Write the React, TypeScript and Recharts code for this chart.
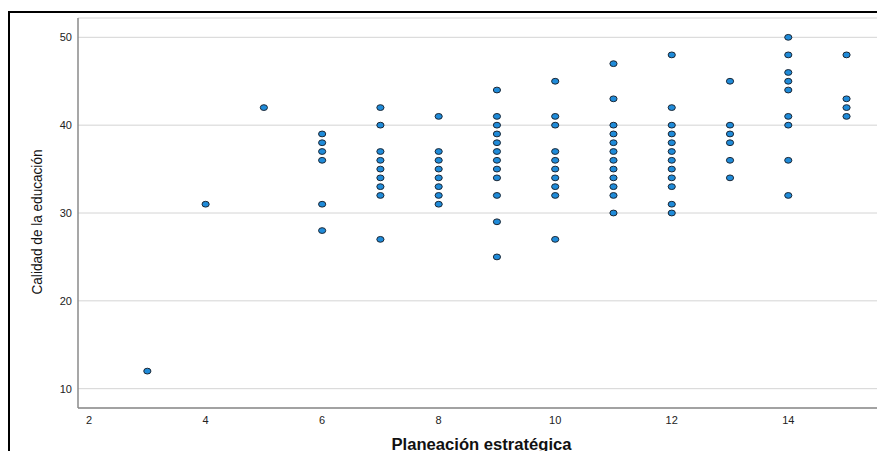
import React from "react";
import {
  ScatterChart,
  Scatter,
  XAxis,
  YAxis,
  CartesianGrid,
} from "recharts";

// Planeación estratégica (x) -> Calidad de la educación (y), one list per x column
const xColumns = [3, 4, 5, 6, 7, 8, 9, 10, 11, 12, 13, 14, 15];
const col3 = [12];
const col4 = [31];
const col5 = [42];
const col6 = [39, 38, 37, 36, 31, 28];
const col7 = [42, 40, 37, 36, 35, 34, 33, 32, 27];
const col8 = [41, 37, 36, 35, 34, 33, 32, 31];
const col9 = [44, 41, 40, 39, 38, 37, 36, 35, 34, 32, 29, 25];
const col10 = [45, 41, 40, 37, 36, 35, 34, 33, 32, 27];
const col11 = [47, 43, 40, 39, 38, 37, 36, 35, 34, 33, 32, 30];
const col12 = [48, 42, 40, 39, 38, 37, 36, 35, 34, 33, 31, 30];
const col13 = [45, 40, 39, 38, 36, 34];
const col14 = [50, 48, 46, 45, 44, 41, 40, 36, 32];
const col15 = [48, 43, 42, 41];

const xTicks = [2, 4, 6, 8, 10, 12, 14];
const yTicks = [10, 20, 30, 40, 50];

const columns = [
  col3, col4, col5, col6, col7, col8, col9, col10, col11, col12, col13, col14, col15,
];

const points = xColumns.flatMap((x, i) =>
  columns[i].map((y) => ({ x, y }))
);

const FONT = "Arial, 'Liberation Sans', sans-serif";

const Dot = (props: any) => {
  const { cx, cy } = props;
  if (cx == null || cy == null) return null;
  return (
    <ellipse
      cx={cx}
      cy={cy}
      rx={3.6}
      ry={2.9}
      fill="#1f8bd9"
      stroke="#1b2735"
      strokeWidth={1}
    />
  );
};

const XLabel = (props: any) => {
  const { viewBox } = props;
  return (
    <text
      x={viewBox.x + viewBox.width / 2}
      y={450}
      textAnchor="middle"
      fontFamily={FONT}
      fontSize={16}
      fontWeight="bold"
      textLength={180}
      lengthAdjust="spacingAndGlyphs"
      fill="#111"
    >
      Planeación estratégica
    </text>
  );
};

const YLabel = (props: any) => {
  const { viewBox } = props;
  const cx = 36;
  const cy = viewBox.y + viewBox.height / 2 + 9;
  return (
    <text
      x={cx}
      y={cy}
      transform={`rotate(-90 ${cx} ${cy})`}
      textAnchor="middle"
      dominantBaseline="central"
      fontFamily={FONT}
      fontSize={15}
      textLength={145}
      lengthAdjust="spacingAndGlyphs"
      fill="#111"
    >
      Calidad de la educación
    </text>
  );
};

export default function App() {
  return (
    <div
      style={{
        position: "relative",
        width: 885,
        height: 459,
        margin: -8,
        overflow: "hidden",
        background: "#fff",
      }}
    >
      <div
        style={{
          position: "absolute",
          left: 8,
          top: 11,
          width: 1000,
          height: 1000,
          border: "2px solid #000",
          boxSizing: "border-box",
        }}
      />
      <div style={{ position: "absolute", left: 0, top: 0 }}>
        <ScatterChart
          width={885}
          height={459}
          margin={{ top: 18, right: 0, bottom: 0, left: 0 }}
        >
          <CartesianGrid
            horizontal
            vertical={false}
            stroke="#d4d4d4"
            strokeWidth={1}
          />
          <XAxis
            type="number"
            dataKey="x"
            domain={[1.81, 15.66]}
            ticks={xTicks}
            allowDataOverflow
            height={51}
            axisLine={{ stroke: "#8a8a8a", strokeWidth: 1.5 }}
            tickLine={false}
            tickSize={6}
            tickMargin={2}
            tick={{ fontSize: 11, fill: "#222", fontFamily: FONT }}
            label={<XLabel />}
          />
          <YAxis
            type="number"
            dataKey="y"
            domain={[7.8, 52.2]}
            ticks={yTicks}
            allowDataOverflow
            width={78}
            axisLine={{ stroke: "#8a8a8a", strokeWidth: 1.5 }}
            tickLine={false}
            tickSize={4}
            tickMargin={2}
            tick={{ fontSize: 11, fill: "#222", fontFamily: FONT }}
            label={<YLabel />}
          />
          <Scatter
            data={points}
            shape={<Dot />}
            isAnimationActive={false}
          />
        </ScatterChart>
      </div>
    </div>
  );
}
